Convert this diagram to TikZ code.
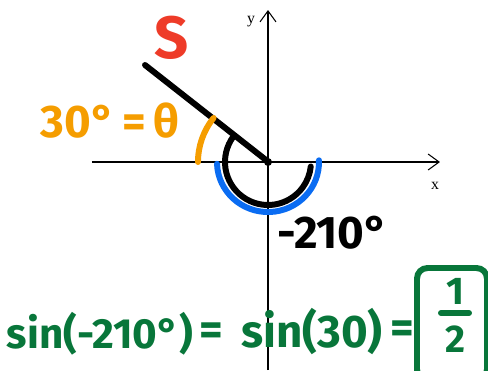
\documentclass[tikz,border=0pt]{standalone}
\usepackage{fontspec}
\setmainfont{Fira Sans}
\newfontfamily\axisfont{Liberation Serif}
\usepackage{xcolor}
\usetikzlibrary{arrows.meta,calc}
\definecolor{inkred}{HTML}{EE3B28}
\definecolor{inkorange}{HTML}{F59D00}
\definecolor{inkblue}{HTML}{0A6CF2}
\definecolor{inkgreen}{HTML}{08763A}

\begin{document}
\begin{tikzpicture}[x=0.02cm, y=0.02cm,
  axis/.style={line width=0.6pt, -{Straight Barb[length=2.2mm, width=3.2mm]}},
  pen/.style={line width=3.4pt, line cap=round},
  hand/.style={font=\fontsize{26}{26}\selectfont\bfseries, inner sep=0pt}]
\useasboundingbox (0,0) rectangle (488,370);
\clip (0,0) rectangle (488,370);
% axes
\coordinate (O) at (268,208);
\draw[axis] (268,0) -- (268,360);
\draw[axis] (92,208) -- (440,208);
\node[font=\axisfont\small] (ylbl) at (251,348) {y};
\node[font=\axisfont\small] (xlbl) at (435,184) {x};
% terminal side
\node[hand, text=inkred, font=\fontsize{34}{34}\selectfont\bfseries] (slbl) at (172,332) {S};
\draw[pen] (145,305) -- (266,210);
\fill (O) circle (4);
% angles
\draw[pen] ($(O)+(144:43)$) arc[start angle=144, end angle=354, radius=43];
\draw[pen, inkblue] ($(O)+(182:51)$) arc[start angle=182, end angle=362, x radius=51, y radius=50];
\draw[pen, inkorange] ($(O)+(141:70)$) arc[start angle=141, end angle=180, radius=70];
% labels
\node[hand, text=inkorange] (theta) at (110,249) {30°\,=\,θ};
\node[hand] (neg) at (333,137) {-210°};
% equation
\node[hand, text=inkgreen, font=\fontsize{24}{24}\selectfont\bfseries] (lhs) at (100,36) {sin(-210°)};
\node[hand, text=inkgreen] (eqa) at (211,36) {=};
\node[hand, text=inkgreen] (rhs) at (312,38) {sin(30)};
\node[hand, text=inkgreen] (eqb) at (402,38) {=};
\draw[inkgreen, line width=3.4pt, rounded corners=6] (417,-10) rectangle (487,102);
\node[hand, text=inkgreen, font=\fontsize{22}{22}\selectfont\bfseries] (one) at (455,79) {1};
\node[hand, text=inkgreen, font=\fontsize{22}{22}\selectfont\bfseries] (two) at (455,31) {2};
\draw[pen, inkgreen] (441,57) -- (469,57);
\end{tikzpicture}
\end{document}
